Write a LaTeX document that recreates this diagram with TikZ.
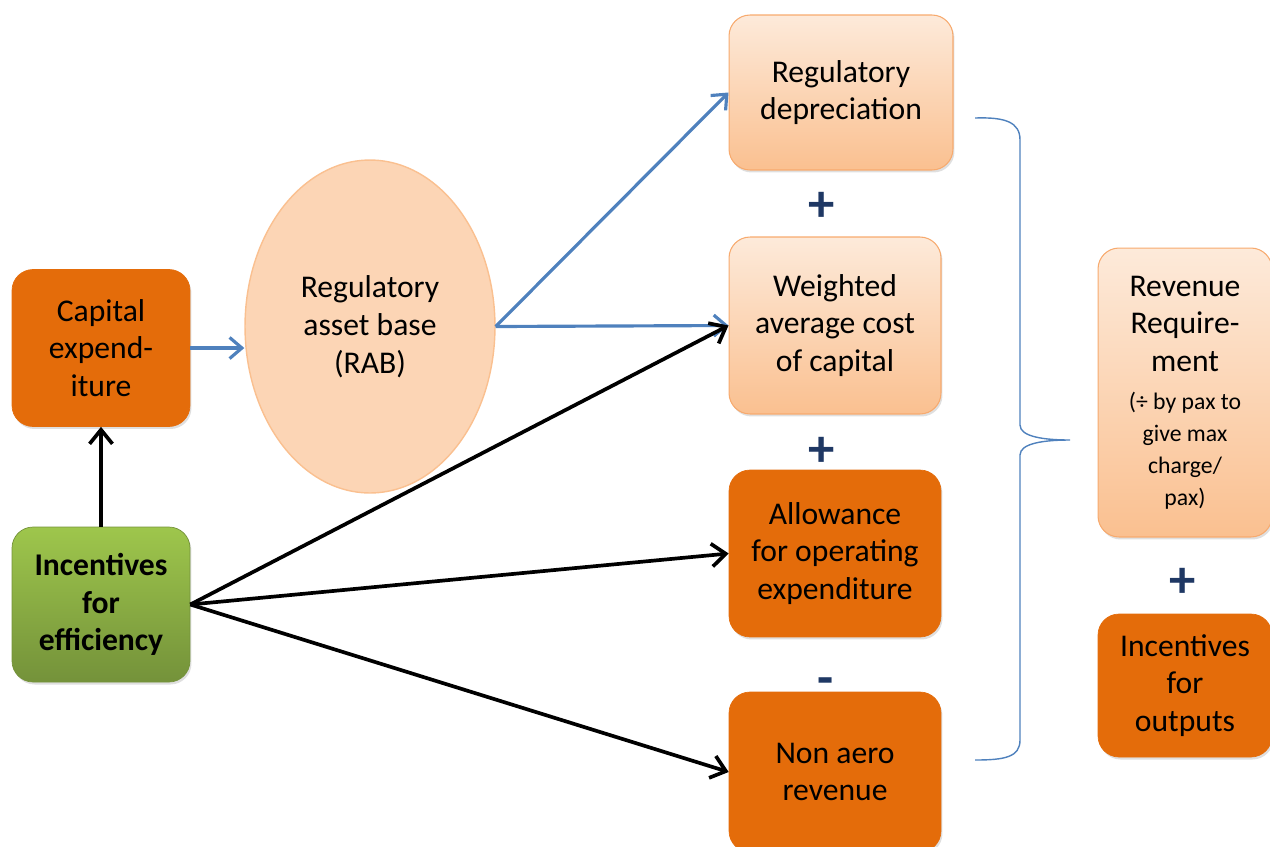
\documentclass[tikz,border=0pt]{standalone}
\usepackage{fontspec}
\setmainfont{Carlito}
\usetikzlibrary{arrows.meta,shapes.geometric,shadows}
\definecolor{darkorange}{RGB}{228,108,10}
\definecolor{peachtop}{RGB}{253,234,218}
\definecolor{peachbot}{RGB}{250,192,144}
\definecolor{peachline}{RGB}{247,170,110}
\definecolor{rabfill}{RGB}{252,213,181}
\definecolor{greentop}{RGB}{158,198,76}
\definecolor{greenbot}{RGB}{116,146,58}
\definecolor{navy}{RGB}{31,56,100}
\definecolor{linkblue}{RGB}{79,129,189}
\newcommand{\paxsize}{\fontsize{13.5}{17}\selectfont}
\tikzset{
  box/.style={rounded corners=0.42cm, align=center, inner sep=2pt,
    font=\fontsize{18}{21.5}\selectfont,
    drop shadow={shadow xshift=0.03cm, shadow yshift=-0.05cm, opacity=0.25}},
  darkbox/.style={box, fill=darkorange, draw=darkorange},
  lightbox/.style={box, top color=peachtop, bottom color=peachbot, draw=peachline, line width=0.6pt},
  greenbox/.style={box, top color=greentop, bottom color=greenbot, draw=greenbot,
    font=\fontsize{18}{21.5}\selectfont\bfseries},
  sign/.style={text=navy, font=\fontsize{30}{30}\selectfont\bfseries, inner sep=0pt},
  bluearrow/.style={-{Straight Barb[length=7pt,width=12pt]}, linkblue, line width=1.8pt},
  blackarrow/.style={-{Straight Barb[length=8pt,width=13pt]}, black, line width=2.1pt}
}
\begin{document}
\begin{tikzpicture}[x=0.02cm, y=-0.02cm]
  \useasboundingbox (0,0) rectangle (1270,846);
  %% Left column
  \node[darkbox, minimum width=3.56cm, minimum height=3.14cm] (capex) at (101,348) {Capital\\expend-\\iture};
  \node[greenbox, minimum width=3.56cm, minimum height=3.1cm] (effic) at (101,604.5) {Incentives\\for\\efficiency};
  %% Asset base
  \node[ellipse, fill=rabfill, draw=peachbot, line width=0.8pt, minimum width=5cm, minimum height=6.66cm,
    align=center, font=\fontsize{18}{21.5}\selectfont] (rab) at (370,326.5) {Regulatory\\asset base\\(RAB)};
  %% Building blocks
  \node[lightbox, minimum width=4.48cm, minimum height=3.1cm] (regdep) at (841,92.5) {Regulatory\\depreciation};
  \node[lightbox, minimum width=4.24cm, minimum height=3.54cm] (wacc) at (835,325.5) {Weighted\\average cost\\of capital};
  \node[darkbox, minimum width=4.24cm, minimum height=3.34cm] (opex) at (835,553.5) {Allowance\\for operating\\expenditure};
  \node[darkbox, minimum width=4.24cm, minimum height=3.2cm] (nonaero) at (835,772) {Non aero\\revenue};
  %% Signs
  \node[sign] (plusA) at (822,207) {+};
  \node[sign] (plusB) at (822,452) {+};
  \node[sign] (minusA) at (826,687) {-};
  \node[sign] (plusC) at (1183,583) {+};
  %% Right column
  \node[lightbox, minimum width=3.48cm, minimum height=5.78cm] (revreq) at (1185,392.5)
    {Revenue\\Require-\\ment\\[0pt]{\paxsize (÷ by pax to}\\[-3.3pt]
     {\paxsize give max}\\[-3.3pt]{\paxsize charge/}\\[-3.3pt]{\paxsize pax)}};
  \node[darkbox, minimum width=3.48cm, minimum height=2.86cm] (outputs) at (1185,685.5) {Incentives\\for\\outputs};
  %% Brace
  \coordinate (braceTop) at (975,118);
  \coordinate (braceBot) at (975,760);
  \coordinate (braceTip) at (1070,440);
  \draw[linkblue, line width=0.8pt] (braceTop) .. controls (1005,117) and (1020,122) .. (1020,140)
    -- (1020,425) .. controls (1020,437) and (1045,440) .. (braceTip)
    .. controls (1045,440) and (1020,443) .. (1020,455)
    -- (1020,740) .. controls (1020,757) and (1005,760) .. (braceBot);
  %% Links
  \draw[bluearrow] (capex.east) -- (rab.west |- capex.east);
  \draw[bluearrow] (rab.east) -- (regdep.west);
  \draw[bluearrow] (rab.east) -- (wacc.west);
  \draw[blackarrow] (effic) -- (capex);
  \draw[blackarrow] (effic.east) -- (wacc.west);
  \draw[blackarrow] (effic.east) -- (opex.west);
  \draw[blackarrow] (effic.east) -- (nonaero.west);
\end{tikzpicture}
\end{document}
